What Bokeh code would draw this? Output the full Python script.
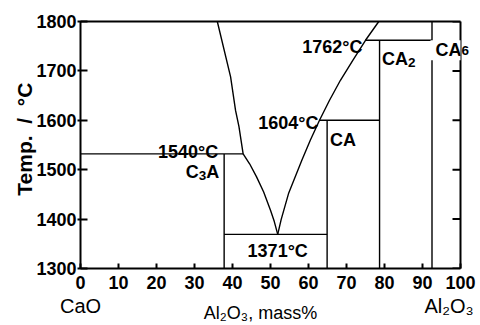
import math
from bokeh.plotting import figure
from bokeh.models import Range1d, FixedTicker, LinearAxis, Label, CustomJSTickFormatter
from bokeh.embed import file_html
from bokeh.resources import INLINE

# ---------------- data ----------------
x_ticks = [0, 10, 20, 30, 40, 50, 60, 70, 80, 90, 100]
y_ticks = [1300, 1400, 1500, 1600, 1700, 1800]

# liquidus, CaO-rich branch (mass% Al2O3, temperature)
liq_left_x = [36.0, 39.5, 40.8, 41.7, 42.8, 44.5, 46.3, 48.2, 50.0, 51.0, 51.9]
liq_left_t = [1800, 1688, 1620, 1587, 1532, 1512, 1486, 1455, 1418, 1395, 1369]
# liquidus, Al2O3-rich branch
liq_right_x = [51.9, 52.8, 54.8, 58.3, 60.5, 62.9, 65.5, 68.4, 71.7, 75.0, 78.5]
liq_right_t = [1369, 1399, 1453, 1520, 1560, 1600, 1640, 1681, 1722, 1762, 1800]

# compounds: composition, top of their vertical line
compound_x = [37.8, 64.9, 78.7, 92.5]
compound_top = [1532, 1600, 1762, 1800]

# invariant (horizontal) lines
inv_t = [1532, 1369, 1600, 1762]
inv_x0 = [0.0, 37.8, 62.9, 75.0]
inv_x1 = [42.8, 64.9, 78.7, 92.5]
inv_labels = ["1540°C", "1371°C", "1604°C", "1762°C"]

FONT = "Liberation Sans"
NB = "\u00a0"

W_BOLD = {'A': .722, 'C': .722, '°': .4, NB: .278}


def text_w(s, size):
    return sum(W_BOLD.get(c, .556) for c in s) * size


def rich_label(p, parts, x, y, size, align, xoff, yoff, sub_scale=0.75, sub_shift=4,
               bg=None):
    widths = [text_w(t, size * sub_scale if s else size) for t, s in parts]
    total = sum(widths)
    cx = {"left": 0, "center": -total / 2, "right": -total}[align]
    for (txt, sub), w in zip(parts, widths):
        fs = size * sub_scale if sub else size
        kw = dict(background_fill_color=bg, padding=0) if bg else {}
        p.add_layout(Label(x=x, y=y, x_offset=xoff + cx,
                           y_offset=yoff - (sub_shift if sub else 0),
                           text=txt, text_font=FONT, text_font_size=f"{fs}px",
                           text_font_style="bold", text_align="left",
                           text_baseline="alphabetic", text_color="black", **kw))
        cx += w


p = figure(width=480, height=325, output_backend="svg", toolbar_location=None,
           x_range=Range1d(x_ticks[0], x_ticks[-1]),
           y_range=Range1d(y_ticks[0], y_ticks[-1]),
           min_border_left=80, min_border_right=20,
           min_border_top=21, min_border_bottom=56)
p.outline_line_color = None
p.xgrid.visible = False
p.ygrid.visible = False
p.background_fill_color = "white"
p.border_fill_color = "white"

# ---- bottom axis (values) ----
xa = p.xaxis[0]
xa.ticker = FixedTicker(ticks=x_ticks)
xa.axis_line_width = 2
xa.major_tick_in = 5
xa.major_tick_out = 0
xa.major_tick_line_width = 2
xa.minor_tick_line_color = None
xa.major_label_text_font = FONT
xa.major_label_text_font_style = "bold"
xa.major_label_text_font_size = "18px"
xa.major_label_text_color = "black"
xa.major_label_standoff = 7

# ---- bottom axis (component names + title) ----
name_ticks = [x_ticks[0], 97]
xa2 = LinearAxis(ticker=FixedTicker(ticks=name_ticks),
                 formatter=CustomJSTickFormatter(
                     code="return tick < 50 ? 'CaO' : 'Al\u2082O\u2083';"),
                 axis_line_color=None, major_tick_line_color=None,
                 minor_tick_line_color=None, major_tick_in=0, major_tick_out=0,
                 major_label_text_font=FONT, major_label_text_font_size="20px",
                 major_label_text_color="black", major_label_standoff=3,
                 axis_label="Al\u2082O\u2083, mass%" + NB * 4,
                 axis_label_text_font=FONT, axis_label_text_font_style="normal",
                 axis_label_text_font_size="18px", axis_label_text_color="black",
                 axis_label_standoff=-17)
p.add_layout(xa2, "below")

# ---- left axis ----
ya = p.yaxis[0]
ya.ticker = FixedTicker(ticks=y_ticks)
ya.axis_line_width = 2
ya.major_tick_in = 7
ya.major_tick_out = 3
ya.major_tick_line_width = 2
ya.minor_tick_line_color = None
ya.major_label_text_font = FONT
ya.major_label_text_font_style = "bold"
ya.major_label_text_font_size = "18px"
ya.major_label_text_color = "black"
ya.major_label_standoff = 1
ya.axis_label = NB * 2 + "Temp." + NB * 2 + "/" + NB * 2 + "°C"
ya.axis_label_text_font = FONT
ya.axis_label_text_font_style = "bold"
ya.axis_label_text_font_size = "21px"
ya.axis_label_text_color = "black"
ya.axis_label_standoff = -3

# ---- right axis: frame edge; carries the subscript of CA6 ----
ra = LinearAxis(ticker=FixedTicker(ticks=[1742]),
                formatter=CustomJSTickFormatter(code="return '6';"),
                axis_line_width=2, major_tick_in=0, major_tick_out=0,
                minor_tick_line_color=None, major_label_text_font=FONT,
                major_label_text_font_style="bold", major_label_text_font_size="13.5px",
                major_label_text_color="black", major_label_standoff=1)
p.add_layout(ra, "right")
# ---- top axis: frame edge only ----
ta = LinearAxis(ticker=FixedTicker(ticks=[]), axis_line_width=2,
                major_tick_in=0, major_tick_out=0, minor_tick_line_color=None)
p.add_layout(ta, "above")

# inward ticks on the right edge
p.scatter(x=[x_ticks[-1]] * len(y_ticks), y=y_ticks, marker="dash", size=16,
          line_color="black", line_width=2)

LW = 1.4
# liquidus
p.line(liq_left_x, liq_left_t, line_color="black", line_width=LW)
p.line(liq_right_x, liq_right_t, line_color="black", line_width=LW)
# compound verticals
p.segment(x0=compound_x, y0=[y_ticks[0]] * len(compound_x), x1=compound_x,
          y1=compound_top, line_color="black", line_width=LW)
# invariant horizontals
p.segment(x0=inv_x0, y0=inv_t, x1=inv_x1, y1=inv_t, line_color="black", line_width=LW)

B = 18


def tlabel(x, y, xo, yo, txt, align):
    p.add_layout(Label(x=x, y=y, x_offset=xo, y_offset=yo, text=txt,
                       text_font=FONT, text_font_size=f"{B}px", text_font_style="bold",
                       text_color="black", text_align=align, text_baseline="alphabetic"))


tlabel(compound_x[0], inv_t[0], -6, 2, inv_labels[0], "right")
tlabel(liq_left_x[-1], inv_t[1], 0, -16.5, inv_labels[1], "center")
tlabel(inv_x0[2], inv_t[2], -1, -2.6, inv_labels[2], "right")
tlabel(inv_x0[3], inv_t[3], -3, -6.7, inv_labels[3], "right")

# compound labels
rich_label(p, [("C", False), ("3", True), ("A", False)], compound_x[0], inv_t[0],
           B, "right", -5, -18)
rich_label(p, [("CA", False)], compound_x[1], inv_t[2], B, "left", 3, -19.3)
rich_label(p, [("CA", False), ("2", True)], compound_x[2], inv_t[3], B, "left", 2.5, -18.3)
# CA6: leading no-break space widens the white box so it interrupts the CA6 line
rich_label(p, [(NB + "CA", False)], compound_x[3], inv_t[3], B, "left", 3.5 - 0.278 * B,
           -10, bg="white")

open("out.html", "w").write(file_html(p, INLINE))
